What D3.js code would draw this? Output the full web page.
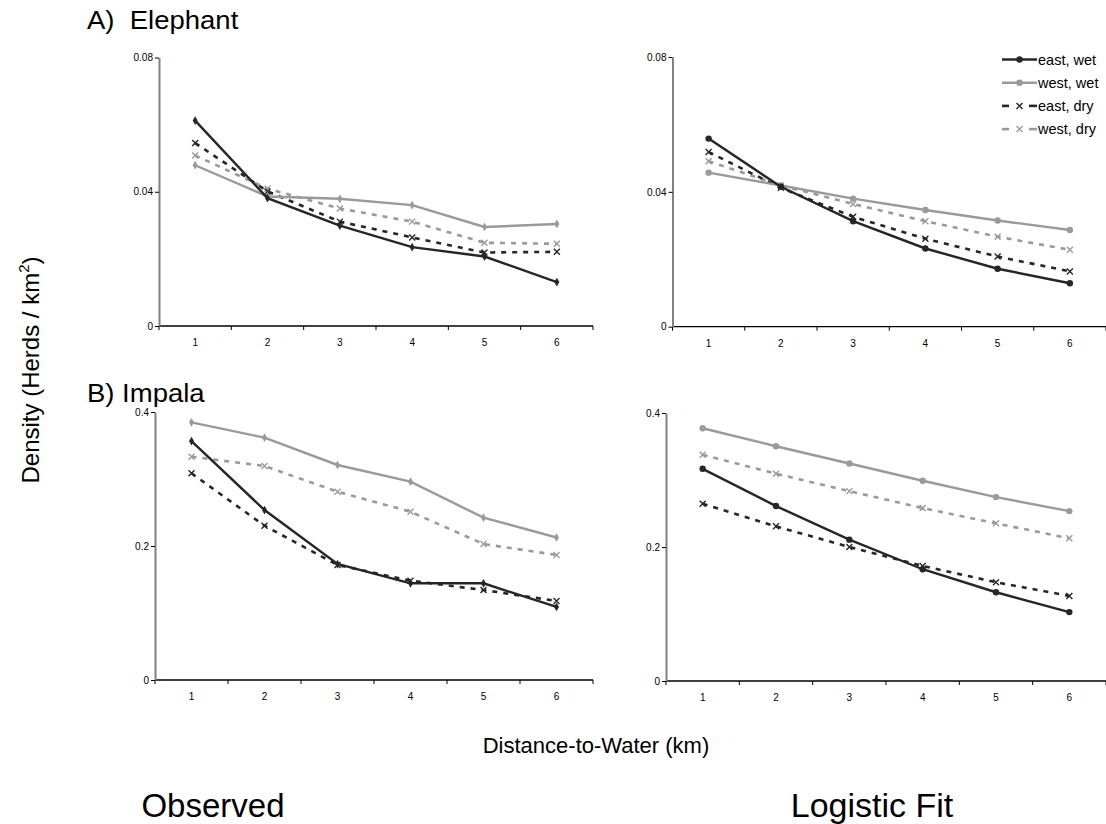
<!DOCTYPE html>
<html>
<head>
<meta charset="utf-8">
<script src="https://cdn.jsdelivr.net/npm/d3@7"></script>
<style>
  html, body { margin: 0; padding: 0; background: #fff; }
  svg { display: block; font-family: "Liberation Sans", Arial, sans-serif; }
</style>
</head>
<body>
<svg id="chart" width="1106" height="824"></svg>
<script>
// Distance-to-water classes (km)
const distances = ["1", "2", "3", "4", "5", "6"];
const seriesNames = ["east, wet", "west, wet", "east, dry", "west, dry"];

// Elephant herd density, observed
const elephantObsEastWet = [0.0612, 0.0381, 0.0299, 0.0235, 0.0207, 0.0131];
const elephantObsWestWet = [0.0479, 0.0386, 0.0379, 0.0360, 0.0295, 0.0304];
const elephantObsEastDry = [0.0545, 0.0401, 0.0311, 0.0264, 0.0219, 0.0221];
const elephantObsWestDry = [0.0508, 0.0409, 0.0350, 0.0311, 0.0248, 0.0245];

// Elephant herd density, logistic fit
const elephantFitEastWet = [0.0558, 0.0415, 0.0313, 0.0232, 0.0172, 0.0129];
const elephantFitWestWet = [0.0457, 0.0419, 0.0380, 0.0346, 0.0315, 0.0287];
const elephantFitEastDry = [0.0518, 0.0412, 0.0326, 0.0261, 0.0208, 0.0164];
const elephantFitWestDry = [0.0491, 0.0419, 0.0364, 0.0313, 0.0267, 0.0228];

// Impala herd density, observed
const impalaObsEastWet = [0.3567, 0.2537, 0.1731, 0.1443, 0.1443, 0.1090];
const impalaObsWestWet = [0.3846, 0.3617, 0.3209, 0.2960, 0.2423, 0.2127];
const impalaObsEastDry = [0.3085, 0.2303, 0.1716, 0.1483, 0.1343, 0.1180];
const impalaObsWestDry = [0.3333, 0.3194, 0.2810, 0.2512, 0.2030, 0.1866];

// Impala herd density, logistic fit
const impalaFitEastWet = [0.3167, 0.2611, 0.2110, 0.1668, 0.1325, 0.1028];
const impalaFitWestWet = [0.3772, 0.3504, 0.3246, 0.2989, 0.2745, 0.2536];
const impalaFitEastDry = [0.2646, 0.2308, 0.2000, 0.1717, 0.1474, 0.1270];
const impalaFitWestDry = [0.3376, 0.3093, 0.2834, 0.2581, 0.2353, 0.2130];

// Y tick values
const elephantTicks = [0, 0.04, 0.08];
const impalaTicks = [0, 0.2, 0.4];

const DARK = "#262626";
const GREY = "#9a9a9a";

const styles = [
  { color: DARK, dashed: false },
  { color: GREY, dashed: false },
  { color: DARK, dashed: true },
  { color: GREY, dashed: true }
];

const svg = d3.select("#chart");

const panels = [
  { left: 159, right: 593, top: 57.5, bottom: 326, max: 0.08, ticks: elephantTicks,
    wetMarker: "diamond",
    series: [elephantObsEastWet, elephantObsWestWet, elephantObsEastDry, elephantObsWestDry] },
  { left: 672.5, right: 1106, top: 57, bottom: 326.7, max: 0.08, ticks: elephantTicks,
    wetMarker: "circle",
    series: [elephantFitEastWet, elephantFitWestWet, elephantFitEastDry, elephantFitWestDry] },
  { left: 155, right: 593, top: 412, bottom: 680, max: 0.4, ticks: impalaTicks,
    wetMarker: "diamond",
    series: [impalaObsEastWet, impalaObsWestWet, impalaObsEastDry, impalaObsWestDry] },
  { left: 666, right: 1106, top: 413, bottom: 681, max: 0.4, ticks: impalaTicks,
    wetMarker: "circle",
    series: [impalaFitEastWet, impalaFitWestWet, impalaFitEastDry, impalaFitWestDry] }
];

function drawMarker(g, kind, x, y, color) {
  if (kind === "circle") {
    g.append("circle").attr("cx", x).attr("cy", y).attr("r", 3.2).attr("fill", color);
  } else if (kind === "diamond") {
    g.append("path")
      .attr("d", d3.symbol().type(d3.symbolDiamond).size(22)())
      .attr("transform", `translate(${x},${y})`)
      .attr("fill", color);
  } else {
    const s = 3;
    g.append("path")
      .attr("d", `M${x - s},${y - s}L${x + s},${y + s}M${x - s},${y + s}L${x + s},${y - s}`)
      .attr("stroke", color).attr("stroke-width", 1.4).attr("fill", "none");
  }
}

panels.forEach(p => {
  const x = d3.scaleBand().domain(distances).range([p.left, p.right]);
  const y = d3.scaleLinear().domain([0, p.max]).range([p.bottom, p.top]);
  const g = svg.append("g");

  // X axis: ticks at category boundaries, labels centred in each band
  const xAxis = g.append("g").attr("transform", `translate(0,${p.bottom})`);
  xAxis.append("line").attr("x1", p.left).attr("x2", p.right)
    .attr("stroke", "#000").attr("stroke-width", 1.3);
  const bounds = distances.map(d => x(d)).concat([p.right]);
  xAxis.selectAll("line.tick").data(bounds).join("line")
    .attr("class", "tick")
    .attr("x1", d => d).attr("x2", d => d).attr("y1", 0).attr("y2", 4)
    .attr("stroke", "#000").attr("stroke-width", 1);
  xAxis.selectAll("text").data(distances).join("text")
    .attr("x", d => x(d) + x.bandwidth() / 2).attr("y", 20)
    .attr("text-anchor", "middle").attr("font-size", 10).attr("fill", "#000")
    .text(d => d);

  // Y axis
  const yAxis = g.append("g").attr("transform", `translate(${p.left},0)`)
    .call(d3.axisLeft(y).tickValues(p.ticks).tickSize(4).tickSizeOuter(0)
      .tickFormat(d => d === 0 ? "0" : String(d)));
  yAxis.select(".domain").attr("stroke", "#808080").attr("stroke-width", 2);
  yAxis.selectAll(".tick line").attr("stroke", "#000");
  yAxis.selectAll(".tick text").attr("font-size", 10).attr("fill", "#000")
    .attr("font-family", "Liberation Sans, Arial, sans-serif").attr("x", -6);

  // Series lines and markers
  const line = d3.line().x((d, i) => x(distances[i]) + x.bandwidth() / 2).y(d => y(d));
  const order = [3, 2, 1, 0];
  order.forEach(si => {
    const st = styles[si];
    g.append("path").datum(p.series[si])
      .attr("d", line)
      .attr("fill", "none")
      .attr("stroke", st.color)
      .attr("stroke-width", st.dashed ? 2.6 : 2.4)
      .attr("stroke-dasharray", st.dashed ? "5,6" : null);
    const mk = st.dashed ? "x" : p.wetMarker;
    p.series[si].forEach((v, i) => {
      drawMarker(g, mk, x(distances[i]) + x.bandwidth() / 2, y(v), st.color);
    });
  });
});

// Legend
const legend = svg.append("g");
seriesNames.forEach((name, i) => {
  const st = styles[i];
  const ly = 59.5 + i * 23.2;
  const row = legend.append("g");
  if (st.dashed) {
    row.append("line").attr("x1", 1002).attr("x2", 1009).attr("y1", ly).attr("y2", ly)
      .attr("stroke", st.color).attr("stroke-width", 2.6);
    row.append("line").attr("x1", 1029).attr("x2", 1037).attr("y1", ly).attr("y2", ly)
      .attr("stroke", st.color).attr("stroke-width", 2.6);
    drawMarker(row, "x", 1019.5, ly, st.color);
  } else {
    row.append("line").attr("x1", 1002).attr("x2", 1037).attr("y1", ly).attr("y2", ly)
      .attr("stroke", st.color).attr("stroke-width", 2.4);
    drawMarker(row, "circle", 1019.5, ly, st.color);
  }
  row.append("text").attr("x", 1038).attr("y", ly).attr("dy", "0.35em")
    .attr("font-size", 14.5).attr("fill", "#000").text(name);
});

// Panel titles
svg.append("text").attr("transform", "translate(87,29) scale(1.1,1)")
  .attr("font-size", 25).attr("fill", "#000")
  .attr("xml:space", "preserve").text("A)  Elephant");
svg.append("text").attr("transform", "translate(87,402) scale(1.1,1)")
  .attr("font-size", 25).attr("fill", "#000")
  .text("B) Impala");

// Axis titles
const yLabel = svg.append("text")
  .attr("transform", "translate(39,370) rotate(-90)")
  .attr("text-anchor", "middle").attr("font-size", 24).attr("fill", "#000");
yLabel.append("tspan").text("Density (Herds / km");
yLabel.append("tspan").attr("font-size", 15).attr("dy", -10).text("2");
yLabel.append("tspan").attr("dy", 10).text(")");

svg.append("text").attr("x", 596).attr("y", 753).attr("text-anchor", "middle")
  .attr("font-size", 22).attr("fill", "#000").text("Distance-to-Water (km)");

svg.append("text").attr("x", 213).attr("y", 817).attr("text-anchor", "middle")
  .attr("font-size", 33).attr("fill", "#000").text("Observed");
svg.append("text").attr("x", 872).attr("y", 817).attr("text-anchor", "middle")
  .attr("font-size", 34).attr("fill", "#000").text("Logistic Fit");
</script>
</body>
</html>
